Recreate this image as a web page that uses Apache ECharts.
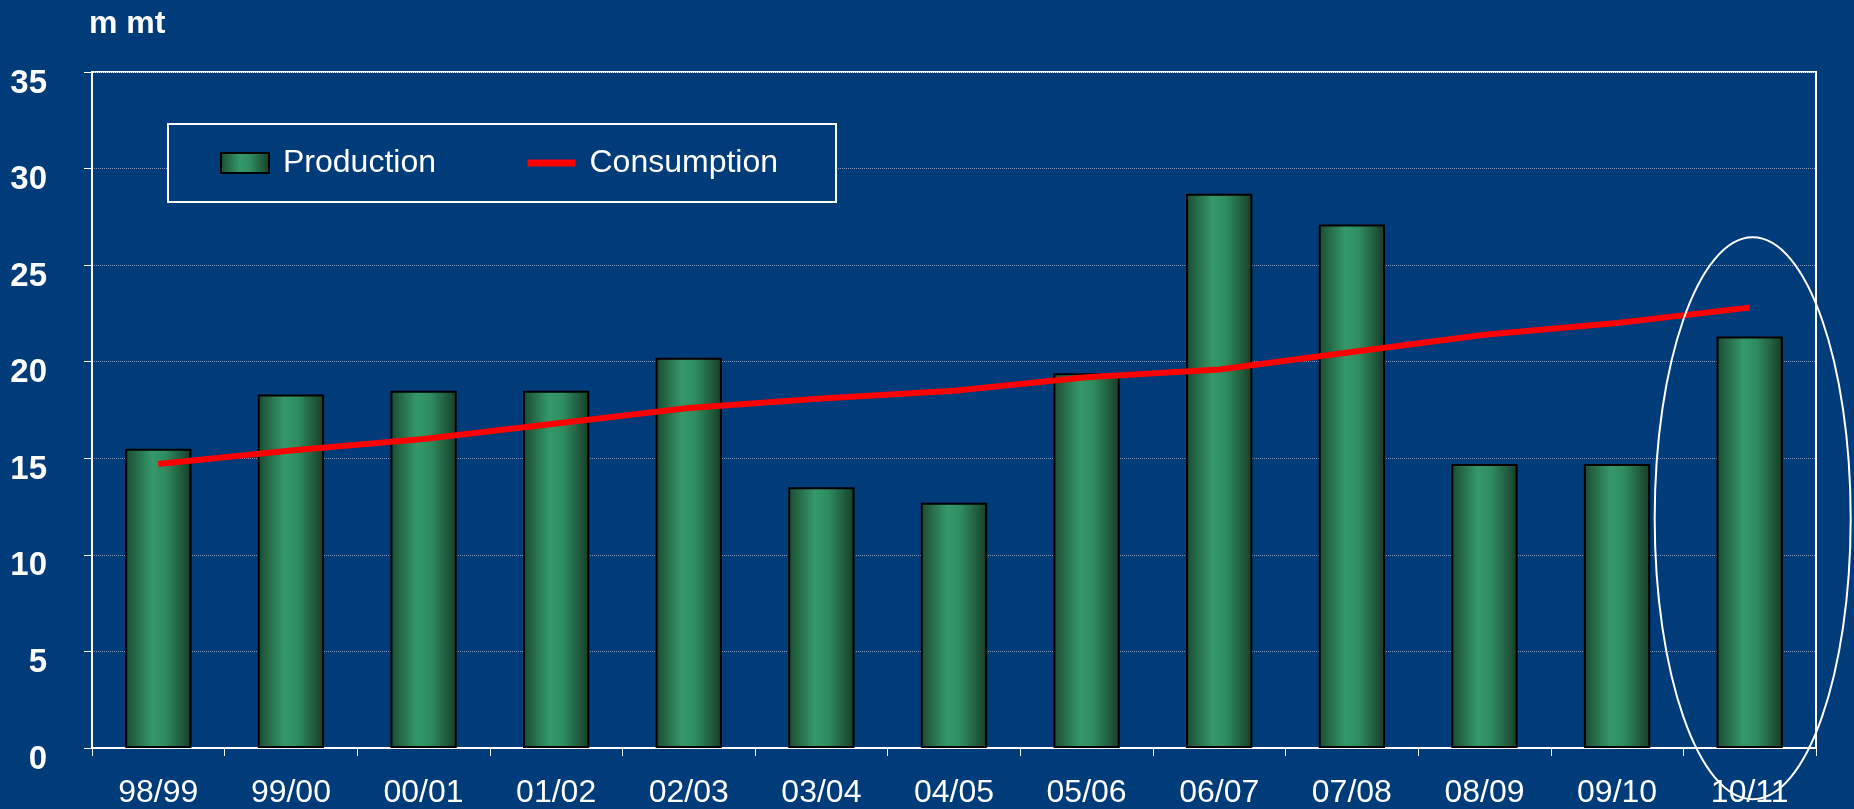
<!DOCTYPE html>
<html>
<head>
<meta charset="utf-8">
<style>
  html, body { margin: 0; padding: 0; background: #003B7A; }
  #chart { width: 1854px; height: 809px; }
</style>
<script src="https://cdn.jsdelivr.net/npm/echarts@6/dist/echarts.min.js"></script>
</head>
<body>
<div id="chart"></div>
<script>
var seasons = ['98/99','99/00','00/01','01/02','02/03','03/04','04/05','05/06','06/07','07/08','08/09','09/10','10/11'];
var production = [15.5, 18.3, 18.5, 18.5, 20.2, 13.5, 12.7, 19.4, 28.7, 27.1, 14.7, 14.7, 21.3];
var consumption = [14.7, 15.4, 16.0, 16.8, 17.6, 18.1, 18.5, 19.2, 19.6, 20.5, 21.4, 22.0, 22.8];
var yTicks = [0, 5, 10, 15, 20, 25, 30, 35];

var font = 'Liberation Sans, Arial, sans-serif';
var myChart = echarts.init(document.getElementById('chart'));

var barGradient = new echarts.graphic.LinearGradient(0, 0, 1, 0, [
  {offset: 0, color: '#1b4a30'},
  {offset: 0.4, color: '#35996a'},
  {offset: 0.6, color: '#2f8d60'},
  {offset: 1, color: '#173c27'}
]);

myChart.setOption({
  backgroundColor: '#003B7A',
  animation: false,
  title: {
    text: 'm mt',
    left: 89,
    top: 8,
    padding: 0,
    textStyle: {color: '#fff', fontFamily: font, fontWeight: 'bold', fontSize: 32}
  },
  legend: {
    left: 168,
    top: 124,
    orient: 'horizontal',
    backgroundColor: '#003B7A',
    borderColor: '#fff',
    borderWidth: 2,
    borderRadius: 0,
    padding: [23, 58, 23, 52],
    itemWidth: 48,
    itemHeight: 20,
    itemGap: 88,
    textStyle: {color: '#fff', fontFamily: font, fontSize: 32, padding: [0, 0, 0, 9]},
    data: [
      {name: 'Production', icon: 'rect'},
      {name: 'Consumption', itemStyle: {opacity: 0}, lineStyle: {width: 7}}
    ]
  },
  grid: {
    left: 92,
    right: 38,
    top: 72,
    bottom: 61,
    show: true,
    borderColor: '#fff',
    borderWidth: 2,
    backgroundColor: 'transparent'
  },
  xAxis: {
    type: 'category',
    data: seasons,
    boundaryGap: true,
    axisLine: {lineStyle: {color: '#fff', width: 2}},
    axisTick: {show: true, length: 8, alignWithLabel: false, lineStyle: {color: '#fff', width: 1}},
    axisLabel: {color: '#fff', fontFamily: font, fontSize: 32, margin: 29}
  },
  yAxis: {
    type: 'value',
    min: yTicks[0],
    max: yTicks[yTicks.length - 1],
    interval: 5,
    axisLine: {show: true, lineStyle: {color: '#fff', width: 2}},
    axisTick: {show: true, length: 8, lineStyle: {color: '#fff', width: 1}},
    axisLabel: {color: '#fff', fontFamily: font, fontSize: 33, fontWeight: 'bold', margin: 45, verticalAlign: 'top', lineHeight: 23},
    splitLine: {show: true, lineStyle: {color: '#8796b4', width: 1, type: 'dotted'}}
  },
  series: [
    {
      name: 'Production',
      type: 'bar',
      data: production,
      barWidth: '50%',
      itemStyle: {color: barGradient, borderColor: '#000', borderWidth: 2}
    },
    {
      name: 'Consumption',
      type: 'line',
      data: consumption,
      symbol: 'none',
      z: 5,
      lineStyle: {color: '#ff0000', width: 6},
      itemStyle: {color: '#ff0000'}
    }
  ]
});

// ellipse around the last season
var cx = myChart.convertToPixel({xAxisIndex: 0}, seasons[seasons.length - 1]);
var cy = myChart.convertToPixel({yAxisIndex: 0}, 12);
myChart.setOption({
  graphic: [{
    type: 'ellipse',
    z: 100,
    shape: {cx: cx + 3, cy: cy + 2, rx: 98, ry: 281},
    style: {fill: 'none', stroke: '#fff', lineWidth: 2}
  }]
});
</script>
</body>
</html>
